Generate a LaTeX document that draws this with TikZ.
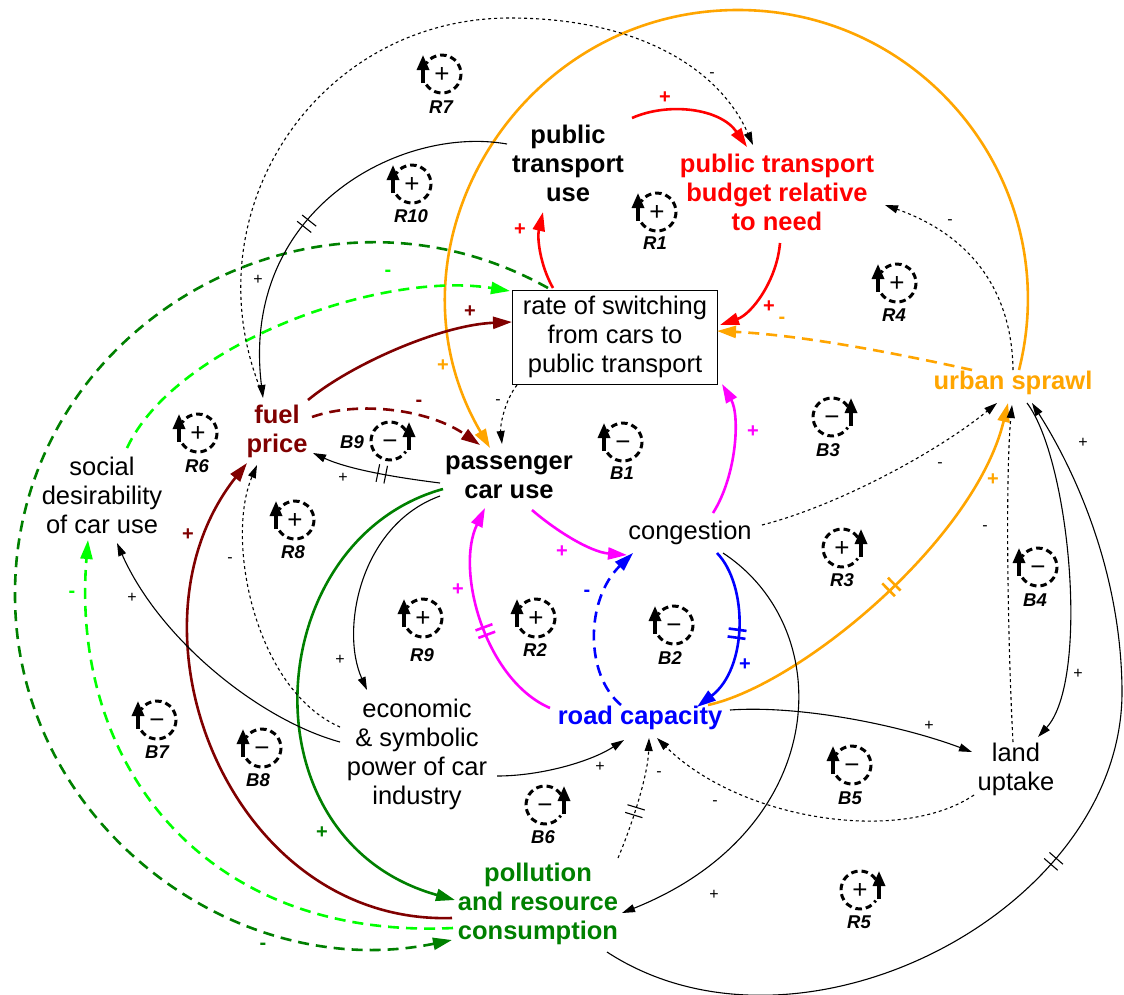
\documentclass[tikz,border=0pt]{standalone}
\usepackage{fontspec}
\setmainfont{Liberation Sans}
\usetikzlibrary{arrows.meta,calc,decorations.markings}
\definecolor{cred}{RGB}{255,0,0}
\definecolor{corange}{RGB}{255,165,0}
\definecolor{cdred}{RGB}{128,0,0}
\definecolor{cgreen}{RGB}{0,128,0}
\definecolor{clgreen}{RGB}{0,255,0}
\definecolor{cmag}{RGB}{255,0,255}
\definecolor{cblue}{RGB}{0,0,255}
\newcommand{\lpL}[7]{%
  \node[lsym] (#1) at (#2,#3) {#4};
  \draw[lcirc] ([shift={(214:19pt)}]#1.center) arc[start angle=214,end angle=506,radius=19pt];
  \draw[larr] ([shift={(-19pt,-9pt)}]#1.center) -- ([shift={(-19pt,19pt)}]#1.center);
  \node[llab] (#1l) at (#5,#6) {#7};
}
\newcommand{\lpR}[7]{%
  \node[lsym] (#1) at (#2,#3) {#4};
  \draw[lcirc] ([shift={(34:19pt)}]#1.center) arc[start angle=34,end angle=326,radius=19pt];
  \draw[larr] ([shift={(19pt,-9pt)}]#1.center) -- ([shift={(19pt,19pt)}]#1.center);
  \node[llab] (#1l) at (#5,#6) {#7};
}
\begin{document}
\begin{tikzpicture}[x=1pt,y=-1pt,
  txt/.style={align=center,inner sep=1pt,font=\fontsize{25.5}{29}\selectfont},
  btxt/.style={align=center,inner sep=1pt,font=\bfseries\fontsize{25.5}{29}\selectfont},
  cc/.style={line width=2.6pt,-{Triangle[length=19pt,width=12pt]}},
  cd/.style={cc,dash pattern=on 11pt off 7pt},
  bk/.style={line width=1.1pt,-{Triangle[length=13pt,width=8pt]}},
  bd/.style={bk,dash pattern=on 3pt off 3pt},
  hashm/.style={postaction={decorate,decoration={markings,mark=at position #1 with {\draw[solid,-] (-4pt,-9pt) -- (-4pt,9pt) (4pt,-9pt) -- (4pt,9pt);}}}},
  bpl/.style={inner sep=0pt,font=\fontsize{16}{16}\selectfont},
  cpl/.style={inner sep=0pt,font=\bfseries\fontsize{20}{20}\selectfont},
  lsym/.style={inner sep=0pt,font=\fontsize{26}{26}\selectfont,text height=17.5pt,text depth=0pt},
  lcirc/.style={line width=3pt,dash pattern=on 6.5pt off 4pt},
  larr/.style={line width=3.2pt,-{Triangle[length=15pt,width=12pt]}},
  llab/.style={inner sep=0pt,font=\bfseries\itshape\fontsize{18.5}{18.5}\selectfont}
]
\fill[white] (0,0) rectangle (1124,994);
\useasboundingbox (0,0) rectangle (1124,994);

% ---------- variables ----------
\node[btxt] (ptu) at (568,163) {public\\transport\\use};
\node[btxt,text=cred] (ptb) at (777,192) {public transport\\budget relative\\to need};
\node[txt,draw,line width=1pt,minimum width=205pt,minimum height=94pt] (ros) at (615,337) {rate of switching\\from cars to\\public transport};
\node[btxt,text=corange] (us) at (1013,383) {urban sprawl};
\node[btxt,text=cdred] (fp) at (277,431) {fuel\\price};
\node[btxt] (pcu) at (509,477) {passenger\\car use};
\node[txt] (sd) at (102,495) {social\\desirability\\of car use};
\node[txt] (cong) at (690,533) {congestion};
\node[btxt,text=cblue] (rc) at (640,718) {road capacity};
\node[txt] (lu) at (1016,769) {land\\uptake};
\node[txt] (ep) at (417,754) {economic\\\& symbolic\\power of car\\industry};
\node[btxt,text=cgreen] (prc) at (538,904) {pollution\\and resource\\consumption};

% ---------- links ----------
\draw[cc,cred] ($(ptu)+(64,-45)$) .. controls (668,102) and (720,108) .. ($(ptb)+(-30,-45)$);
\draw[cc,cred] ($(ptb)+(3,51)$) .. controls (777,280) and (752,314) .. ($(ros)+(105,-12)$);
\draw[cc,cred] ($(ros)+(-62,-49)$) .. controls (540,265) and (537,238) .. ($(ptu)+(-25,49)$);
\draw[cd,corange] ($(us)+(-41,-13)$) .. controls (890,352) and (800,335) .. ($(ros)+(102,-6)$);
\draw[cc,corange] ($(us)+(6,-13)$) .. controls (1065,187) and (927,10) .. (738,10) .. controls (515,10) and (375,252) .. ($(pcu)+(-19,-29)$);
\draw[cc,corange,hashm=0.5] ($(rc)+(68,-13)$) .. controls (800,685) and (975,540) .. ($(us)+(-5,20)$);
\draw[cc,cdred] ($(fp)+(31,-31)$) .. controls (350,365) and (440,325) .. ($(ros)+(-103,-15)$);
\draw[cd,cdred] ($(fp)+(35,-14)$) .. controls (360,400) and (430,410) .. ($(pcu)+(-29,-32)$);
\draw[cc,cdred] ($(prc)+(-86,14)$) .. controls (230,925) and (115,630) .. ($(fp)+(-30,32)$);
\draw[cc,cgreen] ($(pcu)+(-66,12)$) .. controls (260,540) and (240,840) .. ($(prc)+(-83,-4)$);
\draw[cd,clgreen] ($(prc)+(-85,24)$) .. controls (200,940) and (70,760) .. ($(sd)+(-14,45)$);
\draw[cd,clgreen] ($(sd)+(25,-47)$) .. controls (175,345) and (380,270) .. ($(ros)+(-105,-46)$);
\draw[cd,cgreen] ($(ros)+(-67,-49)$) .. controls (311,155) and (14,328) .. (15,595) .. controls (15,820) and (232,985) .. ($(prc)+(-86,36)$);
\draw[bk,hashm=0.55] ($(ptu)+(-61,-19)$) .. controls (400,125) and (240,210) .. ($(fp)+(-14,-33)$);
\draw[bd] ($(fp)+(-15,-38)$) .. controls (188,214) and (316,18) .. (510,18) .. controls (640,18) and (720,70) .. ($(ptb)+(-24,-47)$);
\draw[bk,hashm=0.45] ($(pcu)+(-69,6)$) .. controls (400,478) and (350,470) .. ($(fp)+(36,22)$);
\draw[bd] ($(ep)+(-77,-27)$) .. controls (255,690) and (225,540) .. ($(fp)+(-20,34)$);
\draw[bk] ($(ep)+(-77,-12)$) .. controls (260,720) and (160,640) .. ($(sd)+(15,48)$);
\draw[bk] ($(pcu)+(-69,19)$) .. controls (360,525) and (340,630) .. ($(ep)+(-50,-64)$);
\draw[bk] ($(ep)+(80,22)$) .. controls (540,776) and (590,762) .. ($(rc)+(-16,22)$);
\draw[bd] ($(ros)+(-98,48)$) .. controls (505,400) and (500,425) .. ($(pcu)+(-7,-33)$);
\draw[cc,cmag] ($(pcu)+(23,33)$) .. controls (555,530) and (590,552) .. ($(cong)+(-63,22)$);
\draw[cc,cmag,hashm=0.45] ($(rc)+(-90,-10)$) .. controls (485,680) and (455,570) .. ($(pcu)+(-24,31)$);
\draw[cc,cmag] ($(cong)+(23,-20)$) .. controls (737,475) and (740,415) .. ($(ros)+(107,47)$);
\draw[cd,cblue] ($(rc)+(-19,-13)$) .. controls (585,675) and (585,600) .. ($(cong)+(-57,20)$);
\draw[cc,cblue,hashm=0.5] ($(cong)+(27,20)$) .. controls (748,585) and (748,668) .. ($(rc)+(57,-11)$);
\draw[bd] ($(cong)+(72,-8)$) .. controls (840,505) and (940,450) .. ($(us)+(-16,20)$);
\draw[bk] ($(cong)+(33,20)$) .. controls (840,630) and (830,830) .. ($(prc)+(84,9)$);
\draw[bk] ($(rc)+(90,-8)$) .. controls (800,705) and (900,725) .. ($(lu)+(-44,-17)$);
\draw[bd] ($(lu)+(-42,26)$) .. controls (900,845) and (740,820) .. ($(rc)+(17,20)$);
\draw[bd] ($(lu)+(-3,-27)$) .. controls (1008,650) and (1005,480) .. ($(us)+(-1,22)$);
\draw[bk] ($(us)+(14,20)$) .. controls (1070,460) and (1090,680) .. ($(lu)+(22,-32)$);
\draw[bk,hashm=0.5] ($(prc)+(69,48)$) .. controls (800,1078) and (1124,910) .. (1122,690) .. controls (1121,570) and (1074,469) .. ($(us)+(19,20)$);
\draw[bd] ($(us)+(0,-13)$) .. controls (1012,290) and (970,235) .. ($(ptb)+(108,13)$);
\draw[bd,hashm=0.4] ($(prc)+(80,-46)$) .. controls (632,825) and (648,775) .. ($(rc)+(9,20)$);

% ---------- polarities ----------
\node[cpl,cred] (q1) at (665,98) {+};
\node[cpl,cred] (q2) at (769,307) {+};
\node[cpl,cred] (q3) at (520,230) {+};
\node[cpl,corange] (q4) at (782,320) {-};
\node[cpl,corange] (q5) at (443,366) {+};
\node[cpl,corange] (q6) at (993,480) {+};
\node[cpl,cdred] (q7) at (470,312) {+};
\node[cpl,cdred] (q8) at (419,403) {-};
\node[cpl,cdred] (q9) at (188,535) {+};
\node[cpl,cgreen] (q10) at (322,833) {+};
\node[cpl,clgreen] (q11) at (72,594) {-};
\node[cpl,clgreen] (q12) at (388,273) {-};
\node[cpl,cgreen] (q13) at (263,946) {-};
\node[cpl,cmag] (q14) at (562,552) {+};
\node[cpl,cmag] (q15) at (458,590) {+};
\node[cpl,cmag] (q16) at (753,432) {+};
\node[cpl,cblue] (q17) at (587,593) {-};
\node[cpl,cblue] (q18) at (745,665) {+};
\node[bpl] (k1) at (258,280) {+};
\node[bpl] (k2) at (712,75) {-};
\node[bpl] (k3) at (343,478) {+};
\node[bpl] (k4) at (230,560) {-};
\node[bpl] (k5) at (132,598) {+};
\node[bpl] (k6) at (340,660) {+};
\node[bpl] (k7) at (600,767) {+};
\node[bpl] (k8) at (498,402) {-};
\node[bpl] (k9) at (940,465) {-};
\node[bpl] (k10) at (714,895) {+};
\node[bpl] (k11) at (929,726) {+};
\node[bpl] (k12) at (715,803) {-};
\node[bpl] (k13) at (985,528) {-};
\node[bpl] (k14) at (1078,674) {+};
\node[bpl] (k15) at (1083,443) {+};
\node[bpl] (k16) at (950,222) {-};
\node[bpl] (k17) at (659,774) {-};

% ---------- loop markers ----------
\lpL{R7}{442}{74}{+}{441}{107}{R7}
\lpL{R10}{412}{184}{+}{411}{216}{R10}
\lpL{R1}{657}{212}{+}{655}{243}{R1}
\lpL{R4}{897}{283}{+}{894}{315}{R4}
\lpL{R6}{198}{433}{+}{197}{466}{R6}
\lpR{B9}{390}{441}{−}{352}{442}{B9}
\lpL{B1}{623}{442}{−}{622}{473}{B1}
\lpR{B3}{832}{417}{−}{828}{450}{B3}
\lpL{R8}{295}{520}{+}{293}{552}{R8}
\lpR{R3}{842}{548}{+}{842}{580}{R3}
\lpL{B4}{1038}{567}{−}{1035}{600}{B4}
\lpL{R9}{423}{618}{+}{422}{655}{R9}
\lpL{R2}{536}{618}{+}{535}{650}{R2}
\lpL{B2}{674}{625}{−}{670}{658}{B2}
\lpL{B7}{157}{720}{−}{157}{752}{B7}
\lpL{B8}{262}{748}{−}{258}{780}{B8}
\lpR{B6}{545}{805}{−}{543}{837}{B6}
\lpL{B5}{852}{765}{−}{850}{798}{B5}
\lpR{R5}{860}{890}{+}{859}{922}{R5}
\end{tikzpicture}
\end{document}
